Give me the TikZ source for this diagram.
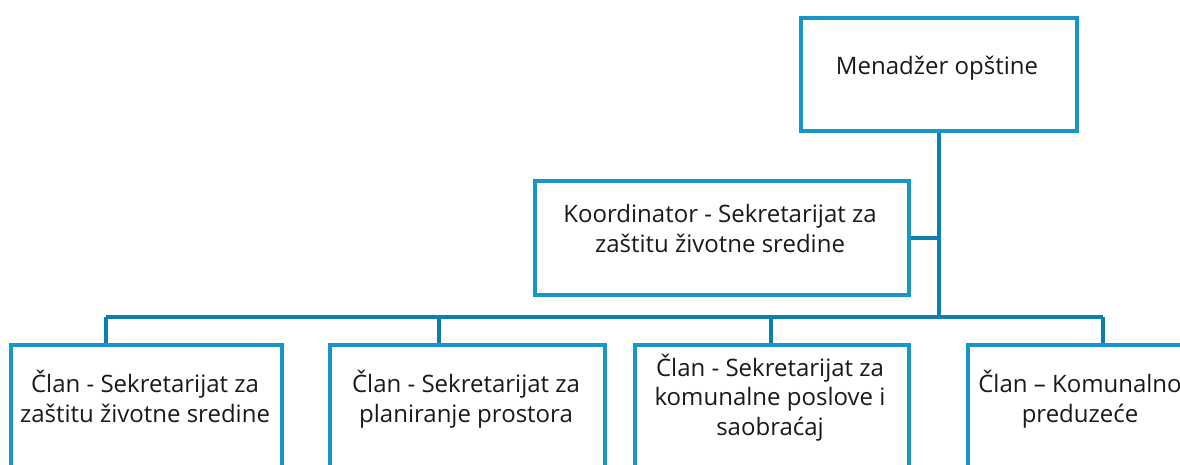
\documentclass[tikz,border=0pt]{standalone}
\usepackage{fontspec}
\setmainfont{Open Sans}
\definecolor{boxblue}{RGB}{24,150,200}
\definecolor{linkblue}{RGB}{14,126,174}
\begin{document}
\begin{tikzpicture}[x=1pt,y=-1pt,
  orgbox/.style={draw=boxblue,line width=3.6pt,rectangle,inner sep=0pt,anchor=north west},
  orgtext/.style={anchor=base,align=center,inner sep=0pt,font=\fontsize{24}{29.5}\selectfont,text=black!90},
  link/.style={draw=linkblue,line width=3.8pt}]
\useasboundingbox (0,0) rectangle (1180,464);
\clip (0,0) rectangle (1180,464);
% boxes
\node[orgbox,minimum width=276pt,minimum height=113pt] (top) at (799,16) {};
\node[orgbox,minimum width=374pt,minimum height=114pt] (coord) at (533,179) {};
\node[orgbox,minimum width=271pt,minimum height=160pt] (b1) at (9,343) {};
\node[orgbox,minimum width=275pt,minimum height=160pt] (b2) at (328,343) {};
\node[orgbox,minimum width=274pt,minimum height=160pt] (b3) at (633,343) {};
\node[orgbox,minimum width=228pt,minimum height=160pt] (b4) at (966,343) {};
% texts (anchor base = last line baseline)
\node[orgtext] (ttop) at (937,74) {Menadžer opštine};
\node[orgtext] (tcoord) at (720,252) {Koordinator - Sekretarijat za\\zaštitu životne sredine};
\node[orgtext] (t1) at (145,422) {Član - Sekretarijat za\\zaštitu životne sredine};
\node[orgtext] (t2) at (466,422) {Član - Sekretarijat za\\planiranje prostora};
\node[orgtext] (t3) at (770,435) {Član - Sekretarijat za\\komunalne poslove i\\saobraćaj};
\node[orgtext] (t4) at (1080,422) {Član – Komunalno\\preduzeće};
% connectors
\coordinate (busL) at (106,317);
\coordinate (busR) at (1103,317);
\coordinate (d2) at (439,317);
\coordinate (d3) at (771,317);
\coordinate (trunk) at (top.south |- busL);
\draw[link] (top.south) -- (trunk);
\draw[link] (coord.east) -- (coord.east -| top.south);
\draw[link] (busL) -- (busR);
\draw[link] (busL) -- (busL |- b1.north);
\draw[link] (d2) -- (d2 |- b2.north);
\draw[link] (d3) -- (d3 |- b3.north);
\draw[link] (busR) -- (busR |- b4.north);
\end{tikzpicture}
\end{document}
